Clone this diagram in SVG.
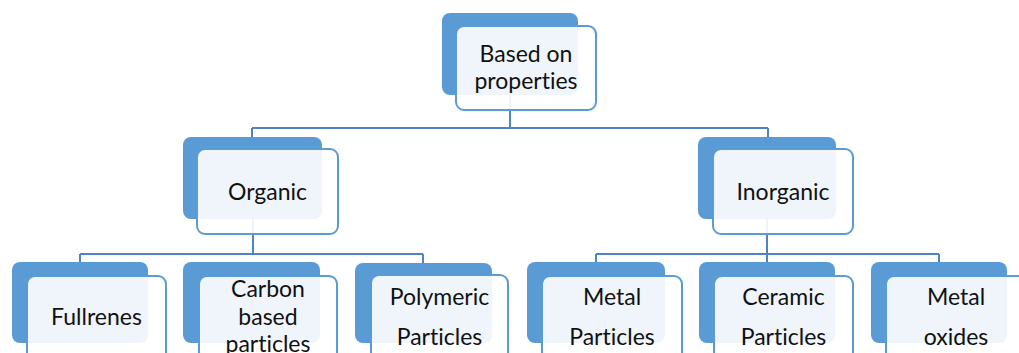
<svg xmlns="http://www.w3.org/2000/svg" width="1019" height="353" viewBox="0 0 1019 353">
  <style>
    .back { fill: #5b9bd5; }
    .front { fill: #ffffff; fill-opacity: 0.9; stroke: #5b9bd5; stroke-width: 2; }
    .lbl { font-family: Lato, "Open Sans", sans-serif; font-size: 23px; fill: #111111; text-anchor: middle; font-variant-ligatures: none; }
    .conn { fill: none; stroke: #4f83c2; stroke-width: 2; }
  </style>
  <rect width="1019" height="353" fill="#ffffff"/>

  <!-- connectors, drawn beneath the translucent node cards -->
  <g id="connectors">
    <path class="conn" d="M510 95 V128 M252 128 H768 M252 128 V137 M768 128 V137"/>
    <path class="conn" d="M253 219 V254 M80 254 H423 M80 254 V262 M423 254 V263"/>
    <path class="conn" d="M767 219 V254 M596 254 H939 M596 254 V262 M767 254 V262 M939 254 V262"/>
  </g>

  <g id="node-properties">
    <rect class="back" x="442" y="13" width="136" height="82" rx="8"/>
    <rect class="front" x="456" y="26" width="140" height="84" rx="8"/>
    <text class="lbl" x="526" y="62">Based on</text>
    <text class="lbl" x="526" y="89">properties</text>
  </g>

  <g id="node-organic">
    <rect class="back" x="183" y="137" width="139" height="82" rx="8"/>
    <rect class="front" x="197" y="149" width="141" height="85" rx="8"/>
    <text class="lbl" x="267.5" y="200">Organic</text>
  </g>

  <g id="node-inorganic">
    <rect class="back" x="698" y="137" width="138" height="82" rx="8"/>
    <rect class="front" x="713" y="149" width="140" height="85" rx="8"/>
    <text class="lbl" x="783" y="200">Inorganic</text>
  </g>

  <g id="node-fullrenes">
    <rect class="back" x="12" y="262" width="136" height="81" rx="8"/>
    <rect class="front" x="27" y="276" width="139" height="90" rx="8"/>
    <text class="lbl" x="96.5" y="325">Fullrenes</text>
  </g>

  <g id="node-carbon">
    <rect class="back" x="183" y="262" width="137" height="81" rx="8"/>
    <rect class="front" x="199" y="276" width="138" height="90" rx="8"/>
    <text class="lbl" x="268" y="297">Carbon</text>
    <text class="lbl" x="268" y="325">based</text>
    <text class="lbl" x="268" y="352">particles</text>
  </g>

  <g id="node-polymeric">
    <rect class="back" x="355" y="263" width="137" height="80" rx="8"/>
    <rect class="front" x="371" y="275" width="137" height="90" rx="8"/>
    <text class="lbl" x="439.5" y="305">Polymeric</text>
    <text class="lbl" x="439.5" y="345">Particles</text>
  </g>

  <g id="node-metal">
    <rect class="back" x="527" y="262" width="138" height="81" rx="8"/>
    <rect class="front" x="542" y="276" width="140" height="90" rx="8"/>
    <text class="lbl" x="612" y="305">Metal</text>
    <text class="lbl" x="612" y="345">Particles</text>
  </g>

  <g id="node-ceramic">
    <rect class="back" x="699" y="262" width="136" height="81" rx="8"/>
    <rect class="front" x="714" y="276" width="139" height="90" rx="8"/>
    <text class="lbl" x="783.5" y="305">Ceramic</text>
    <text class="lbl" x="783.5" y="345">Particles</text>
  </g>

  <g id="node-oxides">
    <rect class="back" x="871" y="262" width="136" height="81" rx="8"/>
    <rect class="front" x="886" y="276" width="140" height="90" rx="8"/>
    <text class="lbl" x="956" y="305">Metal</text>
    <text class="lbl" x="956" y="345">oxides</text>
  </g>
</svg>
